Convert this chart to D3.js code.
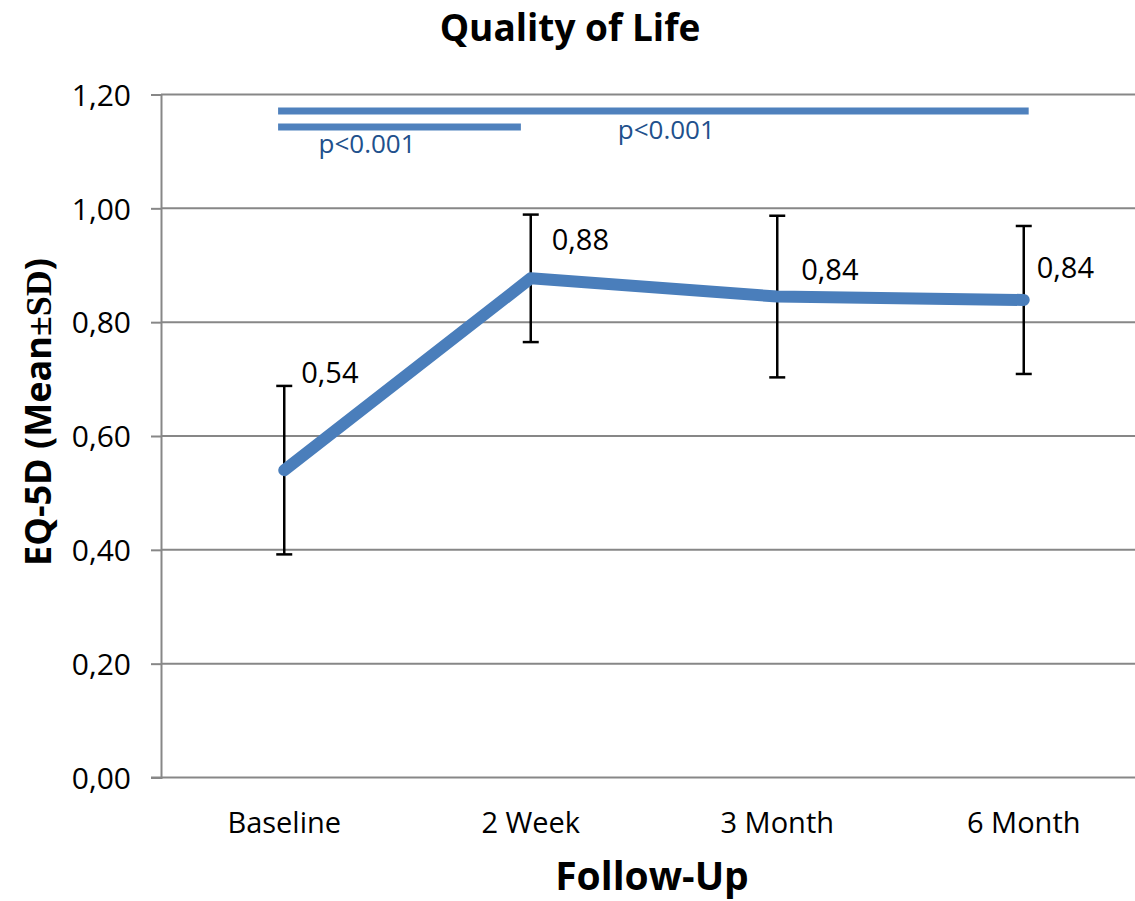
<!DOCTYPE html>
<html>
<head>
<meta charset="utf-8">
<script src="https://cdn.jsdelivr.net/npm/d3@7"></script>
<style>
  body { margin: 0; background: #fff; }
  svg { display: block; font-family: "Open Sans", sans-serif; }
</style>
</head>
<body>
<svg id="chart"></svg>
<script>
// data
const categories = ["Baseline", "2 Week", "3 Month", "6 Month"]
const means = [0.54, 0.877, 0.845, 0.839]
const sds = [0.148, 0.112, 0.142, 0.13]
const meanLabels = ["0,54", "0,88", "0,84", "0,84"]

// significance brackets, in category-index units
const sigFrom = [-0.025, -0.025]
const sigTo = [0.96, 3.02]
const sigLevel = [1.143, 1.171]
const sigText = ["p<0.001", "p<0.001"]
const sigTextAt = [0.336, 1.55]
const sigTextLevel = [1.097, 1.122]

const yTicks = [0, 0.2, 0.4, 0.6, 0.8, 1.0, 1.2]

// layout
const width = 1135
const height = 901
const plotLeft = 161, plotRight = 1147, plotTop = 94.5, plotBottom = 777.5
const labelNudge = [[17, -87], [21, -28], [24, -17], [13, -22]]

const blue = "#4a7ebb"
const gridColor = "#878787"

const svg = d3.select("#chart")
  .attr("width", width)
  .attr("height", height)
  .attr("viewBox", [0, 0, width, height])

const x = d3.scalePoint()
  .domain(categories)
  .range([plotLeft, plotRight])
  .padding(0.5)

const xi = d3.scaleLinear()
  .domain([0, categories.length - 1])
  .range([x(categories[0]), x(categories[categories.length - 1])])

const y = d3.scaleLinear()
  .domain([0, 1.2])
  .range([plotBottom, plotTop])

const locale = d3.formatLocale({ decimal: ",", thousands: ".", grouping: [3], currency: ["", ""] })
const fmt = locale.format(".2f")

// gridlines
svg.append("g")
  .attr("class", "grid")
  .selectAll("line")
  .data(yTicks.filter(d => d > 0))
  .join("line")
  .attr("x1", plotLeft)
  .attr("x2", width)
  .attr("y1", d => y(d))
  .attr("y2", d => y(d))
  .attr("stroke", gridColor)
  .attr("stroke-width", 2)

// y axis
const yAxis = svg.append("g")
  .attr("transform", `translate(${plotLeft},0)`)
  .call(d3.axisLeft(y).tickValues(yTicks).tickFormat(fmt).tickSize(10).tickPadding(20))
yAxis.select(".domain").attr("stroke", gridColor).attr("stroke-width", 2)
yAxis.selectAll(".tick line").attr("stroke", gridColor).attr("stroke-width", 2)
yAxis.selectAll(".tick text")
  .attr("font-size", 30)
  .attr("font-family", "Open Sans, sans-serif")
  .attr("fill", "#000")
  .attr("dy", "0.36em")

// x axis baseline
svg.append("line")
  .attr("x1", plotLeft - 10)
  .attr("x2", width)
  .attr("y1", plotBottom)
  .attr("y2", plotBottom)
  .attr("stroke", gridColor)
  .attr("stroke-width", 2)

svg.append("g")
  .selectAll("text")
  .data(categories)
  .join("text")
  .attr("x", d => x(d))
  .attr("y", plotBottom + 55)
  .attr("text-anchor", "middle")
  .attr("font-size", 29)
  .text(d => d)

// significance bars
svg.append("g")
  .selectAll("line")
  .data(sigLevel)
  .join("line")
  .attr("x1", (d, i) => xi(sigFrom[i]))
  .attr("x2", (d, i) => xi(sigTo[i]))
  .attr("y1", d => y(d))
  .attr("y2", d => y(d))
  .attr("stroke", "#4f81bd")
  .attr("stroke-width", 7)

svg.append("g")
  .selectAll("text")
  .data(sigText)
  .join("text")
  .attr("x", (d, i) => xi(sigTextAt[i]))
  .attr("y", (d, i) => y(sigTextLevel[i]))
  .attr("text-anchor", "middle")
  .attr("font-size", 26)
  .attr("fill", "#21508c")
  .text(d => d)

// error bars
const err = svg.append("g")
  .attr("stroke", "#000")
  .attr("stroke-width", 2.5)
  .selectAll("g")
  .data(categories)
  .join("g")
err.append("line")
  .attr("x1", d => x(d)).attr("x2", d => x(d))
  .attr("y1", (d, i) => y(means[i] - sds[i]))
  .attr("y2", (d, i) => y(means[i] + sds[i]))
err.append("line")
  .attr("x1", d => x(d) - 8).attr("x2", d => x(d) + 8)
  .attr("y1", (d, i) => y(means[i] + sds[i]))
  .attr("y2", (d, i) => y(means[i] + sds[i]))
err.append("line")
  .attr("x1", d => x(d) - 8).attr("x2", d => x(d) + 8)
  .attr("y1", (d, i) => y(means[i] - sds[i]))
  .attr("y2", (d, i) => y(means[i] - sds[i]))

// mean line
const line = d3.line()
  .x((d, i) => x(categories[i]))
  .y(d => y(d))

svg.append("path")
  .datum(means)
  .attr("d", line)
  .attr("fill", "none")
  .attr("stroke", blue)
  .attr("stroke-width", 12)
  .attr("stroke-linecap", "round")
  .attr("stroke-linejoin", "round")

// value labels
svg.append("g")
  .selectAll("text")
  .data(meanLabels)
  .join("text")
  .attr("x", (d, i) => x(categories[i]) + labelNudge[i][0])
  .attr("y", (d, i) => y(means[i]) + labelNudge[i][1])
  .attr("font-size", 29)
  .text(d => d)

// titles
svg.append("text")
  .attr("x", 570)
  .attr("y", 41)
  .attr("text-anchor", "middle")
  .attr("font-size", 37)
  .attr("font-weight", "bold")
  .text("Quality of Life")

svg.append("text")
  .attr("x", 652)
  .attr("y", 890)
  .attr("text-anchor", "middle")
  .attr("font-size", 39)
  .attr("font-weight", "bold")
  .text("Follow-Up")

const yTitle = svg.append("text")
  .attr("transform", "translate(51,412) rotate(-90)")
  .attr("text-anchor", "middle")
  .attr("font-size", 36)
  .attr("font-weight", "bold")
yTitle.append("tspan").text("EQ-5D (Mean")
yTitle.append("tspan").attr("font-family", "Liberation Serif, serif").text("±SD")
yTitle.append("tspan").text(")")
</script>
</body>
</html>
